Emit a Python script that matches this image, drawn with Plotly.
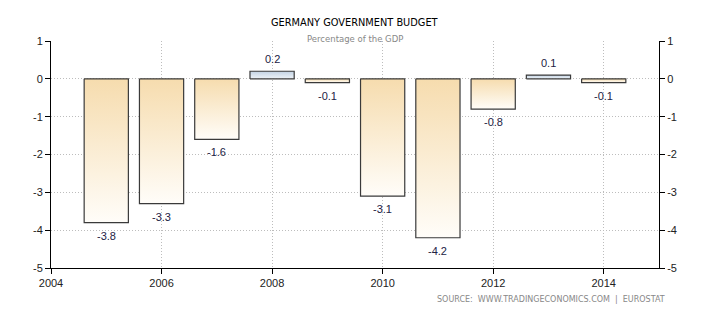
import plotly.graph_objects as go

# Germany government budget balance, % of GDP
years = [2005, 2006, 2007, 2008, 2009, 2010, 2011, 2012, 2013, 2014]
balance = [-3.8, -3.3, -1.6, 0.2, -0.1, -3.1, -4.2, -0.8, 0.1, -0.1]
value_labels = ["-3.8", "-3.3", "-1.6", "0.2", "-0.1", "-3.1", "-4.2", "-0.8", "0.1", "-0.1"]
x_ticks = [2004, 2006, 2008, 2010, 2012, 2014]
y_ticks = [1, 0, -1, -2, -3, -4, -5]

BAR_HALF = 0.4
NEG_SCALE = [[0, "#fffdf9"], [1, "#f6dcae"]]
POS_SCALE = [[0, "#eef3f8"], [1, "#c3d3e4"]]
LABEL_FONT = dict(family="Liberation Sans, Arial, sans-serif", size=11, color="#222244")
TICK_FONT = dict(family="Liberation Sans, Arial, sans-serif", size=11, color="#222222")
GRID = dict(showgrid=True, gridcolor="#bdbdbd", griddash="1px,2px", gridwidth=1)

fig = go.Figure()

# each bar is a filled rectangle so it can carry a vertical gradient
for yr, v in zip(years, balance):
    fig.add_trace(go.Scatter(
        x=[yr - BAR_HALF, yr + BAR_HALF, yr + BAR_HALF, yr - BAR_HALF, yr - BAR_HALF],
        y=[0, 0, v, v, 0],
        mode="lines",
        fill="toself",
        fillgradient=dict(type="vertical", colorscale=POS_SCALE if v > 0 else NEG_SCALE),
        line=dict(color="#3a3a3a", width=1.2),
        hoverinfo="skip",
        showlegend=False,
    ))

# right-hand value axis
fig.add_trace(go.Scatter(x=[years[0]], y=[0], yaxis="y2", mode="markers",
                         marker=dict(opacity=0), hoverinfo="skip", showlegend=False))

# value labels: above positive bars, below negative ones
for yr, v, lab in zip(years, balance, value_labels):
    fig.add_annotation(x=yr, y=v, text=lab, showarrow=False, font=LABEL_FONT,
                       yshift=12 if v > 0 else -13, xref="x", yref="y")

axis_common = dict(
    showline=True, linecolor="#000000", linewidth=1,
    ticks="outside", ticklen=5, tickcolor="#000000",
    tickfont=TICK_FONT, zeroline=False,
)

fig.update_layout(
    width=710, height=325,
    margin=dict(l=51, r=51, t=41, b=57),
    paper_bgcolor="#ffffff", plot_bgcolor="#ffffff",
    xaxis=dict(
        range=[2004, 2015], tickvals=x_ticks, ticktext=[str(t) for t in x_ticks],
        **GRID, **axis_common,
    ),
    yaxis=dict(
        range=[-5, 1], tickvals=y_ticks, ticktext=[str(t) for t in y_ticks],
        **GRID, **axis_common,
    ),
    yaxis2=dict(
        range=[-5, 1], tickvals=y_ticks, ticktext=[str(t) for t in y_ticks],
        overlaying="y", side="right", showgrid=False,
        **axis_common,
    ),
)

# titles and source line
fig.add_annotation(text="GERMANY GOVERNMENT BUDGET", xref="paper", yref="paper",
                   x=0.5, y=1, yshift=26, showarrow=False,
                   font=dict(family="DejaVu Sans, sans-serif", size=9.8, color="#000000"))
fig.add_annotation(text="Percentage of the GDP", xref="paper", yref="paper",
                   x=0.5, y=1, yshift=9, showarrow=False,
                   font=dict(family="DejaVu Sans, sans-serif", size=8.5, color="#888888"))
fig.add_annotation(text="SOURCE:  WWW.TRADINGECONOMICS.COM  |  EUROSTAT", xref="paper", yref="paper",
                   x=1.0, xanchor="right", xshift=8, y=0, yshift=-38, showarrow=False,
                   font=dict(family="DejaVu Sans, sans-serif", size=8, color="#888888"))

fig.write_html("out.html")
